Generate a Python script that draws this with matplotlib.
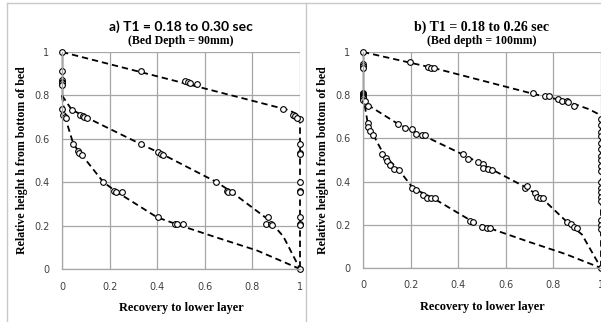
import matplotlib.pyplot as plt
from matplotlib.lines import Line2D

# ---- panel a) T1 = 0.18 to 0.30 sec, bed depth 90mm ----
a_top_x = [0, 0.332, 0.517, 0.531, 0.539, 0.566, 0.927, 0.972, 0.979, 0.986]
a_top_y = [1, 0.914, 0.866, 0.860, 0.857, 0.851, 0.736, 0.710, 0.705, 0.697]
a_x0_y = [0.914, 0.87, 0.862, 0.855, 0.85]
a_x1_y = [0.69, 0.575, 0.533, 0.528, 0.402, 0.359, 0.354, 0.238, 0.206, 0.203, 0.0]
a_mid_x = [0.041, 0.076, 0.087, 0.094, 0.104, 0.332, 0.402, 0.416, 0.426, 0.646, 0.692, 0.699, 0.713,
           0.864, 0.856, 0.878, 0.884]
a_mid_y = [0.733, 0.71, 0.704, 0.70, 0.694, 0.576, 0.539, 0.528, 0.525, 0.402, 0.361, 0.356, 0.356,
           0.238, 0.206, 0.206, 0.203]
a_low_x = [0.0, 0.006, 0.013, 0.016, 0.048, 0.066, 0.073, 0.083, 0.174, 0.22, 0.225, 0.251, 0.402,
           0.475, 0.483, 0.51]
a_low_y = [0.736, 0.71, 0.702, 0.698, 0.575, 0.544, 0.533, 0.525, 0.402, 0.361, 0.356, 0.356, 0.238,
           0.207, 0.206, 0.206]
# fitted (dashed) curves
a_fit1_x = [0, 0.5, 0.95, 0.985, 1, 1]
a_fit1_y = [1, 0.86, 0.733, 0.715, 0.69, 0]
a_fit2_x = [0, 0.04, 0.10, 0.33, 0.42, 0.65, 0.71, 0.87, 0.93, 1]
a_fit2_y = [0.80, 0.735, 0.70, 0.576, 0.53, 0.40, 0.357, 0.225, 0.15, 0]
a_fit3_x = [0, 0.013, 0.048, 0.08, 0.174, 0.23, 0.40, 0.49, 0.65, 0.82, 1]
a_fit3_y = [0.80, 0.70, 0.575, 0.53, 0.40, 0.355, 0.238, 0.203, 0.145, 0.085, 0]

# ---- panel b) T1 = 0.18 to 0.26 sec, bed depth 100mm ----
b_top_x = [0, 0.197, 0.275, 0.286, 0.297, 0.716, 0.765, 0.783, 0.821, 0.835, 0.856, 0.863, 0.888]
b_top_y = [1, 0.952, 0.931, 0.928, 0.925, 0.809, 0.798, 0.794, 0.783, 0.774, 0.771, 0.768, 0.752]
b_x0_y = [0.945, 0.935, 0.925, 0.81, 0.805, 0.80, 0.795, 0.79, 0.785, 0.78]
b_x1_y = [0.69, 0.66, 0.63, 0.61, 0.58, 0.55, 0.52, 0.50, 0.47, 0.45, 0.40, 0.37, 0.35, 0.33, 0.31,
          0.22, 0.20, 0.18, 0.0]
b_mid_x = [0.008, 0.022, 0.148, 0.176, 0.204, 0.221, 0.246, 0.26, 0.422, 0.443, 0.485, 0.506, 0.506,
           0.527, 0.543, 0.681, 0.688, 0.723, 0.73, 0.744, 0.758, 0.856, 0.874, 0.888, 0.898]
b_mid_y = [0.771, 0.752, 0.668, 0.648, 0.645, 0.62, 0.614, 0.614, 0.528, 0.506, 0.491, 0.482, 0.463,
           0.46, 0.455, 0.371, 0.378, 0.348, 0.328, 0.325, 0.322, 0.214, 0.202, 0.189, 0.183]
b_low_x = [0.02, 0.022, 0.029, 0.043, 0.081, 0.095, 0.1, 0.113, 0.132, 0.151, 0.204, 0.221, 0.254,
           0.268, 0.286, 0.303, 0.45, 0.464, 0.501, 0.52, 0.534]
b_low_y = [0.671, 0.651, 0.635, 0.617, 0.528, 0.509, 0.494, 0.475, 0.46, 0.455, 0.371, 0.363, 0.34,
           0.325, 0.322, 0.322, 0.217, 0.214, 0.189, 0.183, 0.186]
b_fit1_x = [0, 0.2, 0.3, 0.72, 0.86, 0.95, 0.985, 1, 1]
b_fit1_y = [1, 0.95, 0.925, 0.805, 0.77, 0.735, 0.715, 0.69, 0]
b_fit2_x = [0, 0.02, 0.15, 0.25, 0.43, 0.54, 0.69, 0.75, 0.86, 0.92, 1]
b_fit2_y = [0.8, 0.755, 0.665, 0.615, 0.52, 0.457, 0.37, 0.325, 0.21, 0.155, 0]
b_fit3_x = [0, 0.02, 0.043, 0.09, 0.15, 0.21, 0.30, 0.46, 0.53, 0.7, 0.85, 1]
b_fit3_y = [0.8, 0.67, 0.617, 0.52, 0.455, 0.37, 0.32, 0.215, 0.185, 0.12, 0.065, 0]

ticks = [0, 0.2, 0.4, 0.6, 0.8, 1]
tick_labels = ['0', '0.2', '0.4', '0.6', '0.8', '1']

SERIF = 'Liberation Serif'
GRID = '#a6a6a6'


def draw_panel(ax, pts, fits, x0_y, x1_y, title, title_font, subtitle):
    ax.set_xlim(0, 1)
    ax.set_ylim(0, 1)
    ax.set_xticks(ticks)
    ax.set_xticklabels(tick_labels)
    ax.set_yticks(ticks)
    ax.set_yticklabels(tick_labels)
    ax.grid(True, color=GRID, lw=0.9)
    ax.set_axisbelow(True)
    for s in ['top', 'right']:
        ax.spines[s].set_visible(False)
    for s in ['left', 'bottom']:
        ax.spines[s].set_color(GRID)
        ax.spines[s].set_linewidth(0.9)
    ax.tick_params(length=0, labelsize=7, colors='#404040', pad=9)

    # solid segment along left edge
    ax.plot([0, 0], [1, 0.8], color='black', lw=1.0, clip_on=False)
    for fx, fy in fits:
        ax.plot(fx, fy, color='black', lw=1.3, ls=(0, (3.5, 2.2)), clip_on=False)

    mk = dict(ls='none', marker='o', ms=4.1, mfc='white', mec='black', mew=0.8, clip_on=False)
    ax.plot([0] * len(x0_y), x0_y, **mk)
    ax.plot([1] * len(x1_y), x1_y, **mk)
    for px, py in pts:
        ax.plot(px, py, **mk)

    ax.text(0.5, 1.115, title, transform=ax.transAxes, ha='center', va='center',
            fontsize=10, fontweight='bold', family=title_font)
    ax.text(0.5, 1.05, subtitle, transform=ax.transAxes, ha='center', va='center',
            fontsize=8.5, fontweight='bold', family=SERIF)
    ax.set_xlabel('Recovery to lower layer', fontsize=8.8, fontweight='bold', family=SERIF)
    ax.set_ylabel('Relative height h from bottom of bed', fontsize=8.6, fontweight='bold',
                  family=SERIF)
    ax.xaxis.set_label_coords(0.5, -0.152)
    ax.yaxis.set_label_coords(-0.142, 0.5)


fig = plt.figure(figsize=(6.01, 3.22), dpi=100)
ax1 = fig.add_axes([62 / 601, 53 / 322, 238 / 601, 217 / 322])
ax2 = fig.add_axes([363 / 601, 54 / 322, 238 / 601, 216 / 322])

draw_panel(ax1,
           [(a_top_x, a_top_y), (a_mid_x, a_mid_y), (a_low_x, a_low_y)],
           [(a_fit1_x, a_fit1_y), (a_fit2_x, a_fit2_y), (a_fit3_x, a_fit3_y)],
           a_x0_y, a_x1_y, 'a) T1 = 0.18 to 0.30 sec', 'Lato', '(Bed Depth = 90mm)')
draw_panel(ax2,
           [(b_top_x, b_top_y), (b_mid_x, b_mid_y), (b_low_x, b_low_y)],
           [(b_fit1_x, b_fit1_y), (b_fit2_x, b_fit2_y), (b_fit3_x, b_fit3_y)],
           b_x0_y, b_x1_y, 'b) T1 = 0.18 to 0.26 sec', SERIF, '(Bed depth = 100mm)')

# chart area borders
border = '#c8c8c8'
fig.add_artist(Line2D([7 / 601, 7 / 601], [0, 1 - 3 / 322], color=border, lw=1))
fig.add_artist(Line2D([306 / 601, 306 / 601], [0, 1 - 3 / 322], color=border, lw=1))
fig.add_artist(Line2D([7 / 601, 1], [1 - 3 / 322, 1 - 3 / 322], color=border, lw=1))

fig.savefig('out.png', dpi=100)
